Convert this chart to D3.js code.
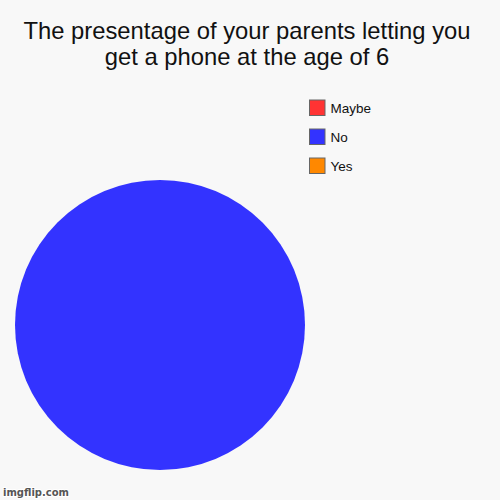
<!DOCTYPE html>
<html>
<head>
<meta charset="utf-8">
<script src="https://cdn.jsdelivr.net/npm/d3@7"></script>
<style>
  html, body { margin: 0; padding: 0; background: #f8f8f8; }
  svg { display: block; }
</style>
</head>
<body>
<svg id="chart" width="500" height="500"></svg>
<script>
// data
const title_lines = [
	"The presentage of your parents letting you",
	"get a phone at the age of 6",
];
const categories = ["Maybe", "No", "Yes"];
const values = [0, 100, 0];
const colors = ["#ff3333", "#3333ff", "#ff8800"];

const svg = d3.select("#chart");
const width = +svg.attr("width");
const height = +svg.attr("height");

svg.append("rect")
	.attr("width", width)
	.attr("height", height)
	.attr("fill", "#f8f8f8");

// title
svg.append("g")
	.attr("font-family", "'Liberation Sans', Arial, sans-serif")
	.attr("font-size", 23.8)
	.attr("fill", "#111")
	.attr("text-anchor", "middle")
	.selectAll("text")
	.data(title_lines)
	.join("text")
	.attr("x", width / 2 - 3)
	.attr("y", (d, i) => 39 + i * 26)
	.text((d) => d);

// pie
const cx = 160;
const cy = 325;
const radius = 145;

const color = d3.scaleOrdinal().domain(categories).range(colors);

const pie = d3.pie()
	.sort(null)
	.value((d) => d.value);

const arc = d3.arc().innerRadius(0).outerRadius(radius);

const slices = pie(categories.map((c, i) => ({ name: c, value: values[i] })));

svg.append("g")
	.attr("transform", `translate(${cx},${cy})`)
	.selectAll("path")
	.data(slices.filter((d) => d.value > 0))
	.join("path")
	.attr("d", arc)
	.attr("fill", (d) => color(d.data.name));

// legend
const legend_y = d3.scalePoint()
	.domain(categories)
	.range([99.5, 157.5]);

const legend = svg.append("g")
	.selectAll("g")
	.data(categories)
	.join("g")
	.attr("transform", (d) => `translate(309,${legend_y(d)})`);

legend.append("rect")
	.attr("x", 0.5)
	.attr("y", 0.5)
	.attr("width", 15.5)
	.attr("height", 15.5)
	.attr("fill", (d) => color(d))
	.attr("stroke", "#666")
	.attr("stroke-width", 1);

legend.append("text")
	.attr("x", 21.5)
	.attr("y", 13.5)
	.attr("font-family", "'Liberation Sans', Arial, sans-serif")
	.attr("font-size", 13.5)
	.attr("fill", "#111")
	.text((d) => d);

// watermark
svg.append("text")
	.attr("x", 3)
	.attr("y", 496)
	.attr("font-family", "'DejaVu Sans', sans-serif")
	.attr("font-size", 10)
	.attr("font-weight", "bold")
	.attr("fill", "#555")
	.attr("stroke", "#fff")
	.attr("stroke-width", 2)
	.attr("paint-order", "stroke")
	.text("imgflip.com");
</script>
</body>
</html>
